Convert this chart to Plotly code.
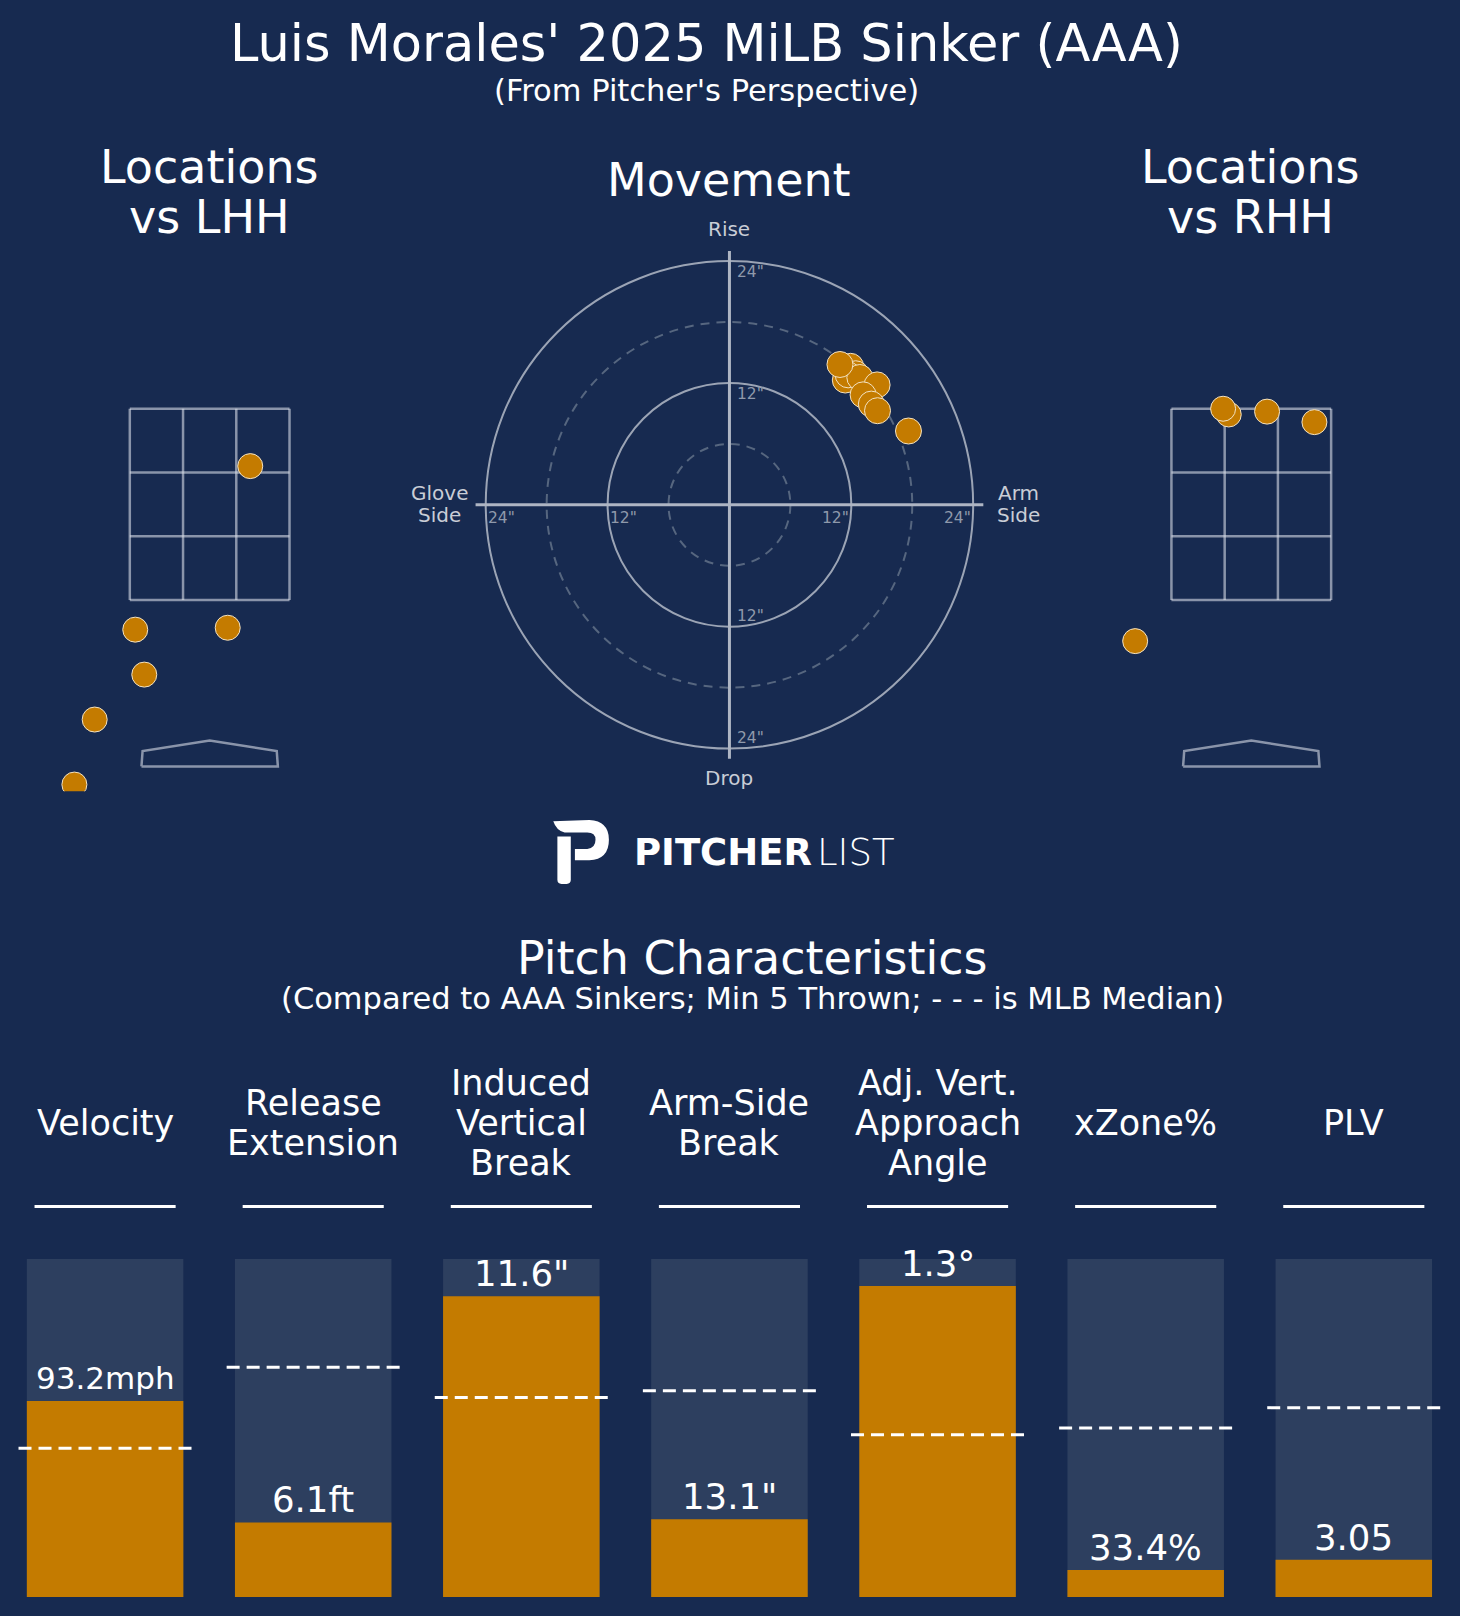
import plotly.graph_objects as go

W, H = 1460, 1616
DS = 0.9706                      # layout measured on a 0.9706-scaled view
DW, DH = W * DS, H * DS
BG = "#172a50"
BAR_BG = "#2d3f5f"
ORANGE = "#c47b00"
MK_LINE = "#f3e2c2"
FONT = "DejaVu Sans"


def fx(px):
    return px / DW


def fy(py):
    return 1 - py / DH


# ---------------- data ----------------
# Locations vs LHH (plate_x ft, plate_z ft) from pitcher's perspective
lhh_x = [0.36, -0.66, 0.16, -0.58, -1.02, -1.20]
lhh_z = [2.90, 1.19, 1.21, 0.72, 0.25, -0.43]
# Locations vs RHH
rhh_x = [-0.20, -0.25, 0.14, 0.56, -1.03]
rhh_z = [3.44, 3.50, 3.47, 3.36, 1.07]
# Movement (arm-side break in, induced vertical break in)
mov_hb = [11.93, 12.43, 11.41, 11.69, 12.84, 14.54, 13.16, 13.97, 14.58, 17.63, 10.88]
mov_ivb = [13.64, 12.91, 12.29, 12.80, 12.54, 11.81, 10.83, 9.92, 9.27, 7.27, 13.82]

# Strike zone / plate
zone_x = [-17 / 24, -17 / 72, 17 / 72, 17 / 24]
zone_z = [1.5, 2.1667, 2.8333, 3.5]
plate_x = [-0.605, -0.595, 0.0, 0.595, 0.605, -0.605]
plate_z = [-0.24, -0.08, 0.03, -0.08, -0.24, -0.24]

# Movement rings
ring_solid = [12, 24]
ring_dash = [6, 18]

# Pitch characteristics
metrics = ["Velocity", "Release<br>Extension", "Induced<br>Vertical<br>Break",
           "Arm-Side<br>Break", "Adj. Vert.<br>Approach<br>Angle", "xZone%", "PLV"]
value_labels = ["93.2mph", "6.1ft", "11.6\"", "13.1\"", "1.3°", "33.4%", "3.05"]
percentiles = [58, 22, 89, 23, 92, 8, 11]
mlb_median = [44, 68, 59, 61, 48, 50, 56]

fig = go.Figure()

grid_col = "rgba(215,220,230,0.6)"


# ---------------- location plots ----------------
def add_location(xs, zs, xa, ya):
    gx, gy = [], []
    for xv in zone_x:
        gx += [xv, xv, None]
        gy += [zone_z[0], zone_z[-1], None]
    for zv in zone_z:
        gx += [zone_x[0], zone_x[-1], None]
        gy += [zv, zv, None]
    fig.add_trace(go.Scatter(x=gx, y=gy, mode="lines", line=dict(color=grid_col, width=2.5),
                             xaxis=xa, yaxis=ya, hoverinfo="skip", showlegend=False))
    fig.add_trace(go.Scatter(x=plate_x, y=plate_z, mode="lines", line=dict(color=grid_col, width=2.5),
                             xaxis=xa, yaxis=ya, hoverinfo="skip", showlegend=False))
    fig.add_trace(go.Scatter(x=xs, y=zs, mode="markers",
                             marker=dict(size=25, color=ORANGE, line=dict(color=MK_LINE, width=1)),
                             xaxis=xa, yaxis=ya, showlegend=False, cliponaxis=True))


add_location(lhh_x, lhh_z, "x", "y")
add_location(rhh_x, rhh_z, "x3", "y3")

# ---------------- movement plot ----------------
shapes = []
for r in ring_dash:
    shapes.append(dict(type="circle", xref="x2", yref="y2", x0=-r, x1=r, y0=-r, y1=r,
                       line=dict(color="#56667f", width=2, dash="9px,7px"), layer="below"))
for r in ring_solid:
    shapes.append(dict(type="circle", xref="x2", yref="y2", x0=-r, x1=r, y0=-r, y1=r,
                       line=dict(color="rgba(200,205,215,0.75)", width=2), layer="below"))
shapes.append(dict(type="line", xref="x2", yref="y2", x0=-25, x1=25, y0=0, y1=0,
                   line=dict(color="#aeb5c3", width=3), layer="below"))
shapes.append(dict(type="line", xref="x2", yref="y2", x0=0, x1=0, y0=-25, y1=25,
                   line=dict(color="#aeb5c3", width=3), layer="below"))

fig.add_trace(go.Scatter(x=mov_hb, y=mov_ivb, mode="markers",
                         marker=dict(size=26, color=ORANGE, line=dict(color=MK_LINE, width=1)),
                         xaxis="x2", yaxis="y2", showlegend=False))

annotations = []
tick_col = "#8f99ab"
lab_col = "#c9cdd6"
TK = 15.5
for r in ring_solid:
    lbl = f'{r}"'
    annotations += [
        dict(x=0.5, y=r, xref="x2", yref="y2", text=lbl, showarrow=False, xanchor="left", yanchor="top",
             font=dict(family=FONT, size=TK, color=tick_col)),
        dict(x=0.5, y=-r, xref="x2", yref="y2", text=lbl, showarrow=False, xanchor="left", yanchor="bottom",
             font=dict(family=FONT, size=TK, color=tick_col)),
        dict(x=-r, y=-0.2, xref="x2", yref="y2", text=lbl, showarrow=False, xanchor="left", yanchor="top",
             font=dict(family=FONT, size=TK, color=tick_col)),
        dict(x=r, y=-0.2, xref="x2", yref="y2", text=lbl, showarrow=False, xanchor="right", yanchor="top",
             font=dict(family=FONT, size=TK, color=tick_col)),
    ]


def ptext(text, px, py, size, color="white", **kw):
    return dict(x=fx(px), y=fy(py), xref="paper", yref="paper", text=text, showarrow=False,
                xanchor=kw.pop("xanchor", "center"), yanchor=kw.pop("yanchor", "middle"),
                font=dict(family=kw.pop("family", FONT), size=size, color=color,
                          weight=kw.pop("weight", "normal")), **kw)


annotations += [
    ptext("Rise", 708, 222, 20, lab_col),
    ptext("Drop", 708, 755, 20, lab_col),
    ptext("Glove", 427, 478.5, 20, lab_col),
    ptext("Side", 427, 499.5, 20, lab_col),
    ptext("Arm", 989, 478.5, 20, lab_col),
    ptext("Side", 989, 499.5, 20, lab_col),
]

# ---------------- titles ----------------
annotations += [
    ptext("Luis Morales' 2025 MiLB Sinker (AAA)", 686, 42, 51),
    ptext("(From Pitcher's Perspective)", 686, 88, 30.5),
    ptext("Locations", 203, 162, 46),
    ptext("vs LHH", 203, 211, 46),
    ptext("Movement", 708, 175, 46),
    ptext("Locations", 1214, 162, 46),
    ptext("vs RHH", 1214, 211, 46),
    ptext("Pitch Characteristics", 730, 930, 46),
    ptext("(Compared to AAA Sinkers; Min 5 Thrown; - - - is MLB Median)", 730, 969, 30.5),
    ptext("PITCHER", 790, 827, 37, weight=700, xanchor="right"),
    ptext("LIST", 791, 827, 37, weight=200, xanchor="left"),
]


# logo icon
def P(px, py):
    return f"{fx(px):.5f},{fy(py):.5f}"


stem = (f"M {P(541,812)} L {P(554,812)} L {P(554,854)} Q {P(554,858)} {P(550,858)} "
        f"L {P(545,858)} Q {P(541,858)} {P(541,854)} Z")
bowl = (f"M {P(537,797)} L {P(572,796)} Q {P(591,797)} {P(591,815)} Q {P(591,834)} {P(572,835)} "
        f"L {P(558,835)} L {P(558,824)} L {P(570,824)} Q {P(578,823)} {P(578,815)} Q {P(578,808)} {P(570,808)} "
        f"L {P(548,808)} Q {P(540,806)} {P(537,797)} Z")
shapes.append(dict(type="path", xref="paper", yref="paper", path=stem, fillcolor="white",
                   line=dict(width=0)))
shapes.append(dict(type="path", xref="paper", yref="paper", path=bowl, fillcolor="white",
                   line=dict(width=0)))

# ---------------- bars ----------------
idx = list(range(len(metrics)))
fig.add_trace(go.Bar(x=idx, y=[100] * len(idx), width=0.752, marker=dict(color=BAR_BG, line=dict(width=0)),
                     xaxis="x4", yaxis="y4", showlegend=False, hoverinfo="skip"))
fig.add_trace(go.Bar(x=idx, y=percentiles, width=0.752, marker=dict(color=ORANGE, line=dict(width=0)),
                     xaxis="x4", yaxis="y4", showlegend=False))
mx, my = [], []
for i, m in zip(idx, mlb_median):
    mx += [i - 0.416, i + 0.416, None]
    my += [m, m, None]
fig.add_trace(go.Scatter(x=mx, y=my, mode="lines", line=dict(color="white", width=3, dash="13px,7px"),
                         xaxis="x4", yaxis="y4", showlegend=False, hoverinfo="skip", cliponaxis=False))

HDR_Y = 1090
HDR_STEP = 39
for i, (name, lbl, pct) in enumerate(zip(metrics, value_labels, percentiles)):
    lines = name.split("<br>")
    k = len(lines)
    for j, ln in enumerate(lines):
        yy = HDR_Y + (j - (k - 1) / 2) * HDR_STEP
        annotations.append(dict(x=i, y=fy(yy), xref="x4", yref="paper", text=ln, showarrow=False,
                                font=dict(family=FONT, size=35, color="white"), yanchor="middle"))
    annotations.append(dict(x=i, y=pct, xref="x4", yref="y4", text=lbl, showarrow=False, yanchor="middle",
                            yshift=22 / DS,
                            font=dict(family=FONT, size=31 if "mph" in lbl else 35.5, color="white")))
    shapes.append(dict(type="line", xref="x4", yref="paper", x0=i - 0.339, x1=i + 0.339,
                       y0=fy(1171), y1=fy(1171), line=dict(color="white", width=3)))

hidden = dict(showgrid=False, zeroline=False, showticklabels=False, showline=False, fixedrange=True)

fig.update_layout(
    width=W, height=H, margin=dict(l=0, r=0, t=0, b=0),
    paper_bgcolor=BG, plot_bgcolor=BG, barmode="overlay",
    xaxis=dict(domain=[fx(20), fx(387)], range=[-1.677, 1.677], **hidden),
    yaxis=dict(domain=[fy(768), fy(257.5)], range=[-0.5, 5.0], **hidden),
    xaxis2=dict(domain=[fx(412.3), fx(1003.7)], range=[-30, 30], anchor="y2", **hidden),
    yaxis2=dict(domain=[fy(785.7), fy(194.3)], range=[-30, 30], anchor="x2", **hidden),
    xaxis3=dict(domain=[fx(1031), fx(1398)], range=[-1.677, 1.677], anchor="y3", **hidden),
    yaxis3=dict(domain=[fy(768), fy(257.5)], range=[-0.5, 5.0], anchor="x3", **hidden),
    xaxis4=dict(domain=[fx(1), fx(1415)], range=[-0.5, 6.5], anchor="y4", **hidden),
    yaxis4=dict(domain=[fy(1550), fy(1222)], range=[0, 100], anchor="x4", **hidden),
    shapes=shapes, annotations=annotations,
)

fig.write_html("out.html", config={"displayModeBar": False},
               post_script="document.body.style.margin='0';")
